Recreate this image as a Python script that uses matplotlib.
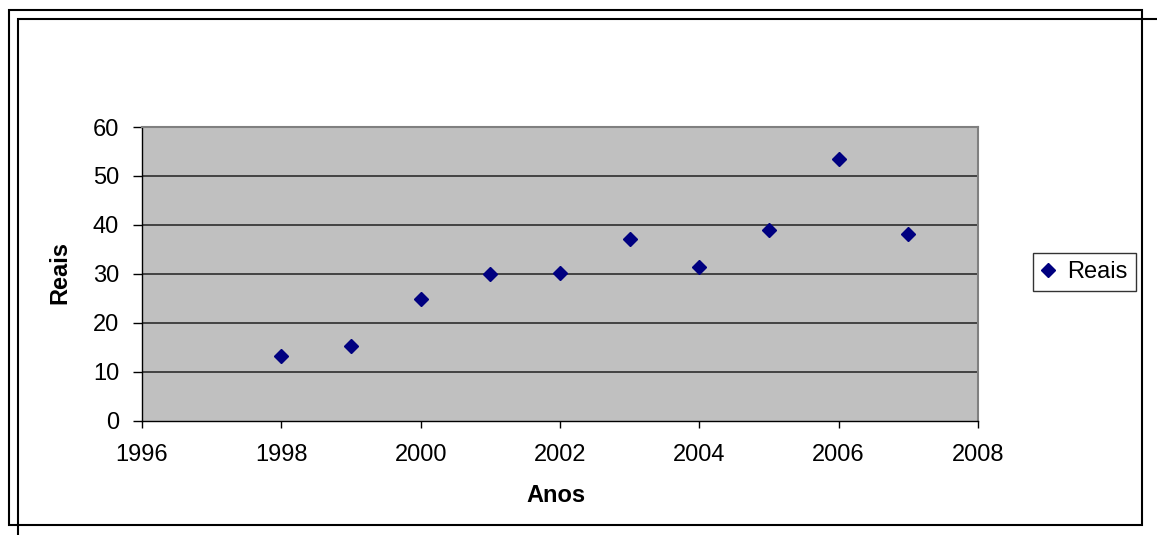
import matplotlib
matplotlib.use('Agg')
import matplotlib.pyplot as plt
from matplotlib.patches import Rectangle

plt.rcParams['font.family'] = ['Liberation Sans', 'DejaVu Sans']
plt.rcParams['font.size'] = 17

anos = [1998, 1999, 2000, 2001, 2002, 2003, 2004, 2005, 2006, 2007]
reais = [13.2, 15.3, 24.9, 29.9, 30.2, 37.1, 31.3, 38.9, 53.5, 38.2]
x_ticks = [1996, 1998, 2000, 2002, 2004, 2006, 2008]
y_ticks = [0, 10, 20, 30, 40, 50, 60]

W, H = 1157, 535
fig = plt.figure(figsize=(W / 100, H / 100), dpi=100)
ax = fig.add_axes([142 / W, 1 - 420.5 / H, (978 - 142) / W, (420.5 - 127) / H])
ax.set_facecolor('#c0c0c0')

for v in y_ticks[1:]:
    ax.axhline(v, color='#202020', lw=1.1, zorder=1)

ax.plot(anos, reais, linestyle='none', marker='D', markersize=7,
        color='#000080', label='Reais', zorder=3)

ax.set_xlim(1996, 2008)
ax.set_ylim(0, 60)
ax.set_xticks(x_ticks)
ax.set_yticks(y_ticks)
ax.tick_params(axis='y', direction='out', length=6.5, width=1, pad=10)
ax.tick_params(axis='x', direction='out', length=5, width=1, pad=12)

for s in ['top', 'right']:
    ax.spines[s].set_color('#808080')
    ax.spines[s].set_linewidth(1.5)
for s in ['left', 'bottom']:
    ax.spines[s].set_color('black')
    ax.spines[s].set_linewidth(1)

fig.text(556 / W, 1 - 495 / H, 'Anos', ha='center', va='center', fontweight='bold')
fig.text(60 / W, 1 - 273 / H, 'Reais', ha='center', va='center',
         rotation=90, fontweight='bold')

leg = ax.legend(loc='center left', bbox_to_anchor=(1033 / W, 1 - 272 / H),
                bbox_transform=fig.transFigure, frameon=True, fancybox=False,
                handlelength=0.6, handletextpad=0.5, borderpad=0.35,
                borderaxespad=0)
leg.get_frame().set_edgecolor('black')
leg.get_frame().set_linewidth(1)

# chart frames
fig.patches.append(Rectangle((9 / W, 1 - 525 / H), (1142 - 9) / W, (525 - 10) / H,
                             transform=fig.transFigure, fill=False,
                             edgecolor='black', lw=1.5))
fig.patches.append(Rectangle((18 / W, 1 - 560 / H), 1200 / W, (560 - 19) / H,
                             transform=fig.transFigure, fill=False,
                             edgecolor='black', lw=1.5))

fig.savefig('out.png', dpi=100, facecolor='white')
